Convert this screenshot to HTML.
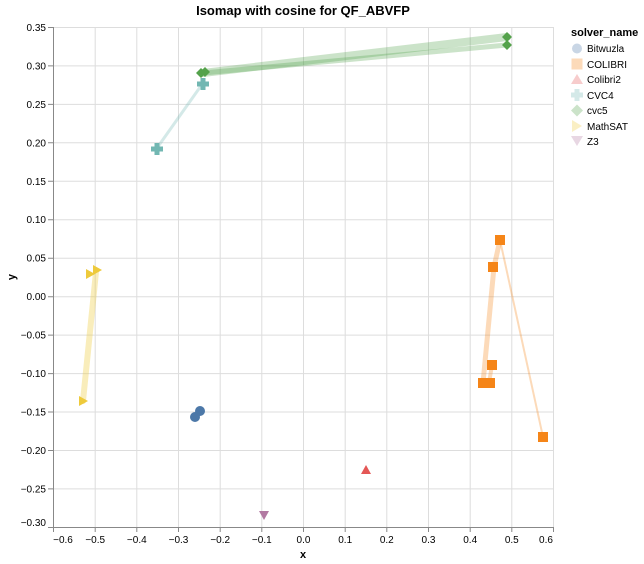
<!DOCTYPE html>
<html><head><style>body{margin:0;background:#fff}svg{display:block;font-family:"Liberation Sans",sans-serif}</style></head><body>
<svg width="644" height="564" xmlns="http://www.w3.org/2000/svg">
<rect width="644" height="564" fill="#fff"/>
<g stroke="#ddd" stroke-width="1">
<line x1="53.5" y1="27" x2="53.5" y2="527"/><line x1="95.2" y1="27" x2="95.2" y2="527"/><line x1="136.8" y1="27" x2="136.8" y2="527"/><line x1="178.5" y1="27" x2="178.5" y2="527"/><line x1="220.2" y1="27" x2="220.2" y2="527"/><line x1="261.8" y1="27" x2="261.8" y2="527"/><line x1="303.5" y1="27" x2="303.5" y2="527"/><line x1="345.2" y1="27" x2="345.2" y2="527"/><line x1="386.8" y1="27" x2="386.8" y2="527"/><line x1="428.5" y1="27" x2="428.5" y2="527"/><line x1="470.2" y1="27" x2="470.2" y2="527"/><line x1="511.8" y1="27" x2="511.8" y2="527"/><line x1="553.5" y1="27" x2="553.5" y2="527"/>
<line x1="53" y1="27.5" x2="553" y2="27.5"/><line x1="53" y1="65.9" x2="553" y2="65.9"/><line x1="53" y1="104.4" x2="553" y2="104.4"/><line x1="53" y1="142.8" x2="553" y2="142.8"/><line x1="53" y1="181.3" x2="553" y2="181.3"/><line x1="53" y1="219.7" x2="553" y2="219.7"/><line x1="53" y1="258.2" x2="553" y2="258.2"/><line x1="53" y1="296.7" x2="553" y2="296.7"/><line x1="53" y1="335.1" x2="553" y2="335.1"/><line x1="53" y1="373.6" x2="553" y2="373.6"/><line x1="53" y1="412" x2="553" y2="412"/><line x1="53" y1="450.5" x2="553" y2="450.5"/><line x1="53" y1="488.9" x2="553" y2="488.9"/>
</g>
<g stroke="#888" stroke-width="1">
<line x1="53" y1="527.5" x2="553" y2="527.5"/><line x1="53.5" y1="27" x2="53.5" y2="527"/>
<path d="M53.5 527v5M95.2 527v5M136.8 527v5M178.5 527v5M220.2 527v5M261.8 527v5M303.5 527v5M345.2 527v5M386.8 527v5M428.5 527v5M470.2 527v5M511.8 527v5M553.5 527v5"/>
<path d="M48 27.5h5M48 65.9h5M48 104.4h5M48 142.8h5M48 181.3h5M48 219.7h5M48 258.2h5M48 296.7h5M48 335.1h5M48 373.6h5M48 412h5M48 450.5h5M48 488.9h5M48 527.5h5"/>
</g>
<g font-size="10" fill="#000" text-anchor="middle">
<text x="63" y="543">−0.6</text><text x="95.2" y="543">−0.5</text><text x="136.8" y="543">−0.4</text><text x="178.5" y="543">−0.3</text><text x="220.2" y="543">−0.2</text><text x="261.8" y="543">−0.1</text><text x="303.5" y="543">0.0</text><text x="345.2" y="543">0.1</text><text x="386.8" y="543">0.2</text><text x="428.5" y="543">0.3</text><text x="470.2" y="543">0.4</text><text x="511.8" y="543">0.5</text><text x="546" y="543">0.6</text>
</g>
<g font-size="10" fill="#000" text-anchor="end">
<text x="46" y="31">0.35</text><text x="46" y="69.4">0.30</text><text x="46" y="107.9">0.25</text><text x="46" y="146.3">0.20</text><text x="46" y="184.8">0.15</text><text x="46" y="223.2">0.10</text><text x="46" y="261.7">0.05</text><text x="46" y="300.2">0.00</text><text x="46" y="338.6">−0.05</text><text x="46" y="377.1">−0.10</text><text x="46" y="415.5">−0.15</text><text x="46" y="454">−0.20</text><text x="46" y="492.4">−0.25</text><text x="46" y="526">−0.30</text>
</g>
<text x="303" y="558" font-size="11" font-weight="bold" text-anchor="middle">x</text>
<text transform="translate(15,277) rotate(-90)" font-size="11" font-weight="bold" text-anchor="middle">y</text>
<text x="303" y="15" font-size="13" font-weight="bold" text-anchor="middle">Isomap with cosine for QF_ABVFP</text>
<!-- lines -->
<g fill="none" stroke-linecap="round" stroke-linejoin="round">
<path d="M203 73L507 37" stroke="#54a24b" stroke-opacity="0.3" stroke-width="8"/>
<path d="M203 73L507 45" stroke="#54a24b" stroke-opacity="0.3" stroke-width="5"/>
<path d="M157 148L203 83" stroke="#72b7b2" stroke-opacity="0.3" stroke-width="3"/>
<path d="M83 401L96 272" stroke="#eeca3b" stroke-opacity="0.35" stroke-width="6"/>
<path d="M483 383L494 267L500 240" stroke="#f58518" stroke-opacity="0.3" stroke-width="5"/>
<path d="M500 240L543 437" stroke="#f58518" stroke-opacity="0.3" stroke-width="2"/>
<path d="M489 383L492 365" stroke="#f58518" stroke-opacity="0.3" stroke-width="4"/>
</g>
<!-- points -->
<g fill="#4c78a8"><circle cx="195" cy="417" r="5"/><circle cx="200" cy="411" r="5"/></g>
<g fill="#f58518"><rect x="495" y="235" width="10" height="10"/><rect x="488" y="262" width="10" height="10"/><rect x="487" y="360" width="10" height="10"/><rect x="478" y="378" width="10" height="10"/><rect x="485" y="378" width="10" height="10"/><rect x="538" y="432" width="10" height="10"/></g>
<path d="M366 465l5 9h-10z" fill="#e45756"/>
<g fill="#72b7b2"><path d="M154.5 143h5v3.5h3.5v5h-3.5v3.5h-5v-3.5h-3.5v-5h3.5z"/><path d="M200.5 78h5v3.5h3.5v5h-3.5v3.5h-5v-3.5h-3.5v-5h3.5z"/></g>
<g fill="#54a24b"><path d="M201 68l5 5-5 5-5-5z"/><path d="M205 67l5 5-5 5-5-5z"/><path d="M507 32l5 5-5 5-5-5z"/><path d="M507 40l5 5-5 5-5-5z"/></g>
<g fill="#eeca3b"><path d="M79 396l9 5-9 5z"/><path d="M86 269l9 5-9 5z"/><path d="M93 265l9 5-9 5z"/></g>
<path d="M259 511h10l-5 9z" fill="#b279a2"/>
<!-- legend -->
<text x="571" y="36" font-size="11" font-weight="bold">solver_name</text>
<g font-size="10" fill="#000">
<circle cx="577" cy="48.5" r="5" fill="#4c78a8" fill-opacity="0.3"/><text x="587" y="52">Bitwuzla</text>
<rect x="571.5" y="58.5" width="11" height="11" fill="#f58518" fill-opacity="0.3"/><text x="587" y="68">COLIBRI</text>
<path d="M577 74l6 10h-12z" fill="#e45756" fill-opacity="0.3"/><text x="587" y="83">Colibri2</text>
<path d="M574.5 89h5v3.5h3.5v5h-3.5v3.5h-5v-3.5h-3.5v-5h3.5z" fill="#72b7b2" fill-opacity="0.3"/><text x="587" y="99">CVC4</text>
<path d="M577 104.5l6 6-6 6-6-6z" fill="#54a24b" fill-opacity="0.3"/><text x="587" y="114">cvc5</text>
<path d="M572 120l10 6-10 6z" fill="#eeca3b" fill-opacity="0.3"/><text x="587" y="130">MathSAT</text>
<path d="M571 136h12l-6 10z" fill="#b279a2" fill-opacity="0.3"/><text x="587" y="145">Z3</text>
</g>
</svg>
</body></html>
